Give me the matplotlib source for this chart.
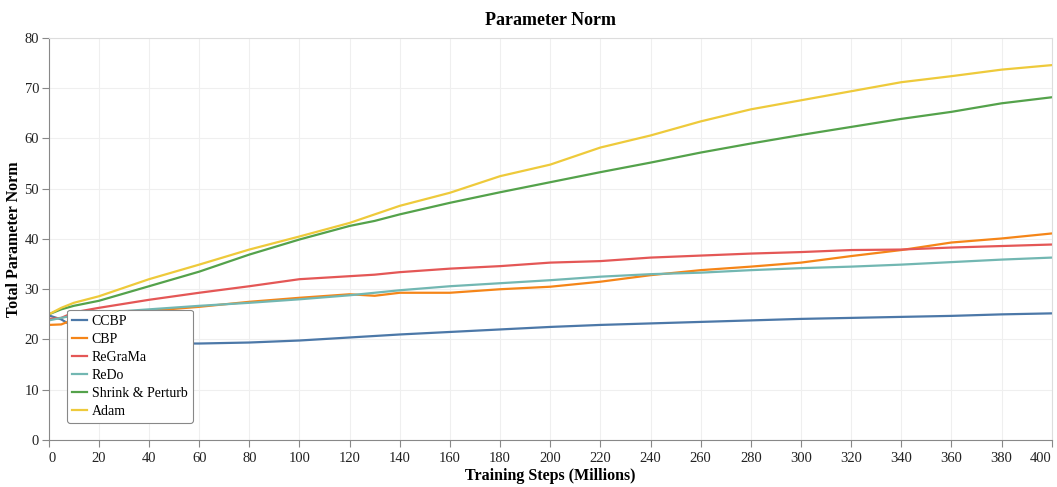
import matplotlib
matplotlib.use("Agg")
import matplotlib.pyplot as plt

plt.rcParams['font.family'] = ['Liberation Serif', 'DejaVu Serif']

steps = [0, 5, 10, 20, 40, 60, 80, 100, 120, 130, 140, 160, 180, 200,
         220, 240, 260, 280, 300, 320, 340, 360, 380, 400]

ccbp = [24.8, 24.0, 22.5, 20.5, 19.2, 19.2, 19.4, 19.8, 20.4, 20.7, 21.0, 21.5,
        22.0, 22.5, 22.9, 23.2, 23.5, 23.8, 24.1, 24.3, 24.5, 24.7, 25.0, 25.2]
cbp = [22.9, 23.0, 24.0, 25.0, 25.7, 26.5, 27.5, 28.3, 29.0, 28.7, 29.3, 29.3,
       30.0, 30.5, 31.5, 32.8, 33.8, 34.5, 35.3, 36.6, 37.8, 39.3, 40.1, 41.1]
regrama = [24.1, 24.3, 25.4, 26.3, 27.9, 29.3, 30.6, 32.0, 32.6, 32.9, 33.4, 34.1,
           34.6, 35.3, 35.6, 36.3, 36.7, 37.1, 37.4, 37.8, 37.9, 38.3, 38.6, 38.9]
redo = [23.8, 24.3, 24.8, 25.3, 26.0, 26.7, 27.3, 28.0, 28.8, 29.3, 29.8, 30.6,
        31.2, 31.8, 32.5, 33.0, 33.3, 33.8, 34.2, 34.5, 34.9, 35.4, 35.9, 36.3]
shrink = [25.0, 26.0, 26.7, 27.7, 30.6, 33.5, 36.9, 39.9, 42.6, 43.6, 44.9, 47.2,
          49.3, 51.3, 53.3, 55.2, 57.2, 59.0, 60.7, 62.3, 63.9, 65.3, 67.0, 68.2]
adam = [25.0, 26.3, 27.3, 28.6, 32.0, 34.9, 37.9, 40.5, 43.2, 44.9, 46.6, 49.2,
        52.5, 54.8, 58.2, 60.6, 63.4, 65.8, 67.6, 69.4, 71.2, 72.4, 73.7, 74.6]

series = [("CCBP", ccbp, "#4c78a8"),
          ("CBP", cbp, "#f58518"),
          ("ReGraMa", regrama, "#e45756"),
          ("ReDo", redo, "#72b7b2"),
          ("Shrink & Perturb", shrink, "#54a24b"),
          ("Adam", adam, "#eeca3b")]

fig = plt.figure(figsize=(10.57, 4.87), dpi=100)
ax = fig.add_axes([0.0461, 0.0965, 0.9489, 0.8255])

for name, vals, col in series:
    ax.plot(steps, vals, color=col, lw=1.6, label=name)

ax.set_xlim(0, 400)
ax.set_ylim(0, 80)
ax.set_xticks(range(0, 401, 20))
ax.set_yticks(range(0, 81, 10))
ax.grid(True, color="#efefef", lw=0.8)
ax.set_axisbelow(True)
for s in ["top", "right"]:
    ax.spines[s].set_color("#dddddd")
for s in ["left", "bottom"]:
    ax.spines[s].set_color("#888888")
ax.tick_params(colors="#888888", length=5, labelcolor="#222222", labelsize=10.5)
ax.tick_params(axis="y", pad=2)
xlabels = ax.get_xticklabels()
xlabels[0].set_horizontalalignment("left")
xlabels[-1].set_horizontalalignment("right")

ax.set_title("Parameter Norm", fontsize=13, fontweight="bold", pad=9)
ax.set_xlabel("Training Steps (Millions)", fontsize=11.5, fontweight="bold", labelpad=2)
ax.set_ylabel("Total Parameter Norm", fontsize=11.5, fontweight="bold", labelpad=2)

leg = ax.legend(loc="lower left", bbox_to_anchor=(0.018, 0.042), borderaxespad=0,
                fontsize=10, handlelength=1.05, handletextpad=0.35, labelspacing=0.35,
                frameon=True, fancybox=True, framealpha=1)
leg.get_frame().set_edgecolor("#888888")
leg.get_frame().set_linewidth(0.8)

fig.savefig("out.png", dpi=100)
